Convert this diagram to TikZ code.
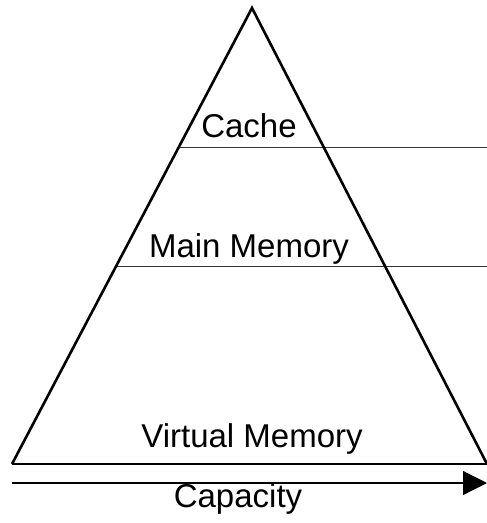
\documentclass[tikz,border=0pt]{standalone}
\usepackage{fontspec}
\setmainfont{Liberation Sans}
\usetikzlibrary{arrows.meta,calc}

\tikzset{
    level/.style={font=\fontsize{33}{38}\selectfont, anchor=base, inner sep=0pt},
    divider/.style={line width=0.9pt, black!80},
    outline/.style={line width=2.6pt, line join=miter},
}

\begin{document}
\begin{tikzpicture}[x=1pt, y=-1pt]
    \useasboundingbox (0,0) rectangle (487,523);

    % Pyramid corners
    \coordinate (apex) at (252,8);
    \coordinate (left) at (12,464);
    \coordinate (right) at (487,464);

    % Level dividers, from the left edge to the margin
    \coordinate (cacheL) at ($(apex)!0.3055!(left)$);
    \coordinate (mainL) at ($(apex)!0.566!(left)$);
    \coordinate (cacheR) at (487,0 |- cacheL);
    \coordinate (mainR) at (487,0 |- mainL);
    \draw[divider] (cacheL) -- (cacheR);
    \draw[divider] (mainL) -- (mainR);

    % Pyramid
    \draw[outline] (left) -- (apex) -- (right);
    \draw[outline] (left) -- (right);

    % Level labels
    \node[level] (cache) at (249,137) {Cache};
    \node[level] (main) at (249,257) {Main Memory};
    \node[level] (virtual) at (252,447) {Virtual Memory};

    % Capacity arrow
    \coordinate (capL) at (12,483);
    \coordinate (capR) at (487,483);
    \draw[line width=1.2pt, -{Triangle[length=24pt, width=24pt]}] (capL) -- (capR);
    \node[level] (capacity) at (238,507) {Capacity};
\end{tikzpicture}
\end{document}
